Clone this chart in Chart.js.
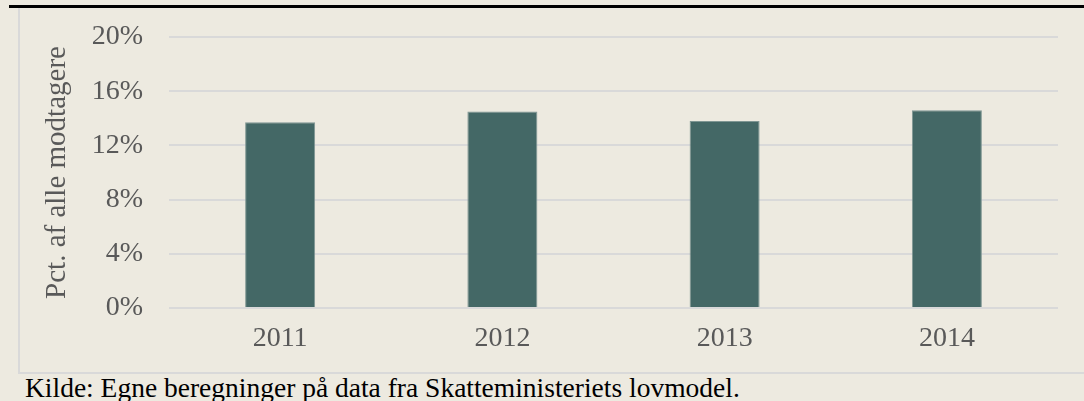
<!DOCTYPE html>
<html>
<head>
<meta charset="utf-8">
<script src="https://cdn.jsdelivr.net/npm/chart.js@4.4.1/dist/chart.umd.min.js"></script>
<style>
  html, body { margin: 0; padding: 0; }
  body { width: 1084px; height: 401px; background: #edeae0; position: relative; overflow: hidden; font-family: "Liberation Serif", serif; }
  #topline { position: absolute; left: 9px; top: 5px; width: 1075px; height: 3px; background: #000; }
  #panel { position: absolute; left: 18px; top: 8px; width: 1066px; height: 364px; border-left: 2px solid #d9d9d9; border-bottom: 2px solid #d9d9d9; box-sizing: content-box; }
  #wrap { position: absolute; left: 20px; top: 8px; width: 1064px; height: 364px; }
  #source { position: absolute; left: 25px; top: 372px; font-size: 27.5px; color: #000; white-space: nowrap; }
</style>
</head>
<body>
<div id="topline"></div>
<div id="panel"></div>
<div id="wrap"><canvas id="chart"></canvas></div>
<div id="source">Kilde: Egne beregninger på data fra Skatteministeriets lovmodel.</div>
<script>
document.addEventListener('DOMContentLoaded', function () {
    // Chart data
    const years = ['2011', '2012', '2013', '2014'];
    const shares = [0.137, 0.145, 0.138, 0.146];
    const yTitle = 'Pct. af alle modtagere';

    const tickFont = { family: 'Liberation Serif', size: 28 };
    const ctx = document.getElementById('chart').getContext('2d');

    new Chart(ctx, {
        type: 'bar',
        data: {
            labels: years,
            datasets: [{
                data: shares,
                backgroundColor: '#446866',
                borderColor: '#7f9693',
                borderWidth: 1,
                categoryPercentage: 1,
                barPercentage: 0.315
            }]
        },
        options: {
            responsive: true,
            maintainAspectRatio: false,
            animation: false,
            layout: { padding: { top: 29, right: 26, left: 0, bottom: 0 } },
            plugins: { legend: { display: false }, tooltip: { enabled: false } },
            scales: {
                x: {
                    grid: { display: false, drawTicks: false },
                    border: { display: false },
                    ticks: { color: '#595959', font: tickFont, padding: 14 },
                    afterFit: scale => { scale.height = 64; }
                },
                y: {
                    min: 0,
                    max: 0.2,
                    grid: { color: '#d9d9d9', lineWidth: 2, drawTicks: false },
                    border: { display: false },
                    ticks: {
                        stepSize: 0.04,
                        color: '#595959',
                        font: tickFont,
                        padding: 26,
                        callback: v => Math.round(v * 100) + '%'
                    },
                    title: {
                        display: true,
                        text: yTitle,
                        color: '#595959',
                        font: { family: 'Liberation Serif', size: 29 },
                        padding: { top: 20, bottom: 0 }
                    },
                    afterFit: scale => {
                        scale.width = 149;
                        // tick padding is meant horizontally only
                        scale.paddingTop = 0;
                        scale.paddingBottom = 0;
                    }
                }
            }
        }
    });
});
</script>
</body>
</html>
